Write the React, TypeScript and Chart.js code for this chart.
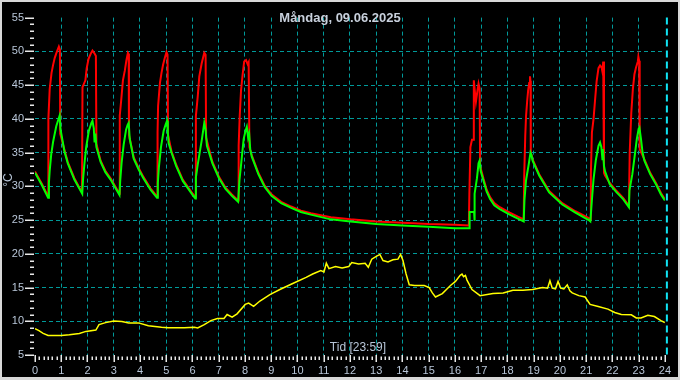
import React, { useEffect, useRef } from "react";
import { Chart, registerables } from "chart.js";

Chart.register(...registerables);

const TITLE = "Måndag, 09.06.2025";
const X_TITLE = "Tid [23:59]";
const Y_TITLE = "°C";

const xTickValues = [0, 1, 2, 3, 4, 5, 6, 7, 8, 9, 10, 11, 12, 13, 14, 15, 16, 17, 18, 19, 20, 21, 22, 23, 24];
const yTickValues = [5, 10, 15, 20, 25, 30, 35, 40, 45, 50, 55];

// Red series (hours, °C)
const redHours = [
  0.0, 0.26, 0.5, 0.51, 0.56, 0.63, 0.69, 0.75, 0.81, 0.91, 0.95, 0.96,
  1.12, 1.25, 1.5, 1.79,
  1.81, 1.92, 1.97, 2.04, 2.13, 2.19, 2.28, 2.32, 2.34,
  2.5, 2.68, 2.88, 3.22,
  3.23, 3.29, 3.35, 3.42, 3.48, 3.54, 3.57, 3.58,
  3.76, 3.95, 4.13, 4.4, 4.65,
  4.67, 4.69, 4.76, 4.82, 4.88, 4.95, 5.01, 5.05, 5.07,
  5.2, 5.38, 5.63, 6.01, 6.11,
  6.13, 6.2, 6.26, 6.35, 6.45, 6.5, 6.52,
  6.76, 7.01, 7.26, 7.5, 7.74,
  7.76, 7.8, 7.85, 7.91, 7.97, 8.04, 8.1, 8.14, 8.17,
  8.26, 8.51, 8.75, 9.01, 9.38, 9.76, 10.13, 10.51, 11.27, 12.02, 13.0, 14.0, 15.0, 16.0, 16.53,
  16.55, 16.59, 16.65, 16.71, 16.72, 16.76, 16.8, 16.86, 16.9, 16.94, 16.96,
  17.09, 17.21, 17.34, 17.5, 17.71, 18.09, 18.4, 18.62,
  18.64, 18.68, 18.71, 18.75, 18.79, 18.83, 18.86, 18.88, 18.89,
  18.96, 19.21, 19.59, 20.09, 20.59, 21.1, 21.16,
  21.18, 21.22, 21.28, 21.34, 21.4, 21.47, 21.53, 21.59, 21.62, 21.65, 21.68,
  21.72, 21.9, 22.16, 22.41, 22.63,
  22.66, 22.72, 22.78, 22.84, 22.9, 22.97, 22.99, 23.02, 23.04,
  23.22, 23.44, 23.66, 23.85, 24.0,
];
const redTemps = [
  32.2, 30.4, 28.5, 40.0, 44.4, 46.8, 48.0, 49.0, 49.7, 50.7, 50.3, 37.8,
  35.4, 33.6, 31.2, 29.1,
  44.7, 45.7, 47.5, 48.9, 49.7, 50.1, 49.6, 49.3, 36.3,
  33.8, 32.3, 31.2, 28.9,
  40.5, 43.0, 45.7, 47.1, 48.6, 49.8, 49.6, 37.6,
  34.3, 32.7, 31.4, 29.7, 28.5,
  38.0, 41.9, 45.3, 46.8, 48.0, 49.1, 49.9, 49.5, 37.6,
  35.2, 33.2, 31.0, 28.9, 28.4,
  40.4, 43.3, 46.3, 48.2, 49.8, 49.5, 37.2,
  33.6, 31.4, 29.8, 28.8, 27.9,
  36.0, 40.4, 44.2, 46.5, 48.5, 48.7, 48.1, 48.4, 35.8,
  34.6, 32.0, 30.1, 28.8, 27.7, 27.0, 26.4, 26.0, 25.4, 25.1, 24.8, 24.6, 24.4, 24.3, 24.2,
  28.8, 35.8, 36.9, 36.9, 45.7, 44.0, 42.5, 44.2, 45.2, 44.5, 33.0,
  31.1, 29.5, 28.4, 27.5, 26.9, 26.1, 25.5, 25.1,
  31.5, 37.5, 40.4, 42.5, 44.2, 45.3, 46.3, 45.6, 35.0,
  34.0, 31.8, 29.3, 27.5, 26.3, 25.3, 25.1,
  31.8, 38.0, 39.9, 42.8, 45.6, 47.5, 47.9, 47.6, 47.0, 48.5, 32.0,
  31.6, 30.5, 29.3, 28.3, 27.1,
  35.0, 40.9, 44.4, 46.6, 47.6, 48.5, 49.2, 48.6, 35.5,
  34.0, 32.0, 30.5, 29.0, 28.1,
];

// Green series (hours, °C)
const greenHours = [
  0.0, 0.26, 0.5, 0.53, 0.56, 0.62, 0.69, 0.81, 0.94, 0.97,
  1.12, 1.25, 1.5, 1.8,
  1.83, 1.88, 1.95, 2.05, 2.15, 2.19, 2.24, 2.27, 2.3, 2.34,
  2.5, 2.68, 2.88, 3.22,
  3.25, 3.3, 3.38, 3.47, 3.53, 3.57, 3.61,
  3.76, 3.95, 4.13, 4.4, 4.65,
  4.68, 4.72, 4.8, 4.9, 4.98, 5.03, 5.06, 5.09,
  5.2, 5.38, 5.63, 6.01, 6.11,
  6.13, 6.2, 6.28, 6.36, 6.45, 6.5, 6.55,
  6.76, 7.01, 7.26, 7.5, 7.74,
  7.79, 7.86, 7.95, 8.02, 8.07, 8.12, 8.16, 8.2,
  8.26, 8.51, 8.75, 9.01, 9.38, 9.76, 10.13, 10.51, 11.27, 12.02, 13.0, 14.0, 15.0, 16.0, 16.54,
  16.56, 16.73, 16.74, 16.76, 16.84, 16.9, 16.94, 16.98,
  17.09, 17.21, 17.34, 17.5, 17.71, 18.09, 18.4, 18.62,
  18.65, 18.71, 18.81, 18.88, 18.92,
  18.96, 19.21, 19.59, 20.09, 20.59, 21.1, 21.16,
  21.22, 21.28, 21.37, 21.47, 21.53, 21.58, 21.62, 21.64, 21.68, 21.72,
  21.9, 22.16, 22.41, 22.63,
  22.65, 22.76, 22.84, 22.93, 23.0, 23.03, 23.09, 23.15,
  23.22, 23.44, 23.66, 23.85, 24.0,
];
const greenTemps = [
  32.0, 30.2, 28.3, 30.5, 32.3, 34.8, 36.6, 38.9, 40.5, 38.5,
  35.2, 33.4, 31.0, 28.9,
  31.0, 33.2, 35.8, 38.2, 39.4, 39.7, 38.6, 36.5, 37.8, 35.8,
  33.6, 32.1, 31.0, 28.7,
  31.0, 33.5, 36.2, 38.4, 39.1, 39.4, 37.0,
  34.1, 32.5, 31.2, 29.5, 28.3,
  30.5, 32.8, 35.8, 38.2, 39.2, 39.7, 38.0, 36.4,
  35.0, 33.0, 30.8, 28.7, 28.2,
  31.3, 33.2, 35.1, 37.0, 39.4, 38.4, 36.0,
  33.4, 31.2, 29.6, 28.6, 27.7,
  30.9, 33.5, 37.0, 38.2, 38.8, 37.2, 37.8, 35.5,
  34.4, 31.8, 29.9, 28.6, 27.5, 26.8, 26.2, 25.8, 25.1, 24.8, 24.4, 24.2, 24.0, 23.8, 23.8,
  26.2, 26.2, 24.9, 28.9, 31.2, 33.4, 33.8, 32.3,
  30.8, 29.2, 28.1, 27.2, 26.6, 25.8, 25.2, 24.8,
  28.0, 30.9, 33.2, 35.0, 34.6,
  33.8, 31.6, 29.1, 27.3, 26.1, 25.0, 24.8,
  28.0, 31.0, 33.9, 36.0, 36.5, 35.8, 34.0, 35.5, 33.0, 32.2,
  30.3, 29.1, 28.1, 26.9,
  29.4, 31.8, 34.2, 37.0, 38.5, 38.7, 37.0, 35.0,
  33.8, 31.8, 30.3, 28.8, 27.9,
];

// Yellow series (hours, °C)
const yellowHours = [
  0.0, 0.15, 0.31, 0.5, 1.0, 1.31, 1.69, 1.94, 2.32, 2.44, 2.69, 3.0, 3.31, 3.57, 3.94,
  4.32, 4.82, 5.07, 5.69, 6.07, 6.2, 6.45, 6.7, 6.95, 7.2, 7.32, 7.51, 7.7,
  8.01, 8.14, 8.33, 8.57, 8.95, 9.33, 9.82, 10.33, 10.58, 10.89, 11.01, 11.1, 11.2,
  11.45, 11.7, 11.95, 12.07, 12.33, 12.58, 12.7, 12.83, 13.02, 13.14, 13.26, 13.45,
  13.64, 13.83, 13.93, 14.02, 14.14, 14.26, 14.46, 14.83, 15.02, 15.14, 15.26, 15.52,
  15.83, 16.02, 16.2, 16.27, 16.33, 16.4, 16.46, 16.65, 16.96, 17.45, 17.84, 18.21,
  18.59, 18.96, 19.34, 19.53, 19.62, 19.71, 19.83, 19.93, 20.03, 20.15, 20.28, 20.38,
  20.47, 20.72, 20.96, 21.15, 21.46, 21.83, 22.09, 22.34, 22.72, 22.91, 23.09, 23.35,
  23.6, 23.85, 24.0,
];
const yellowTemps = [
  8.9, 8.6, 8.2, 7.9, 7.9, 8.0, 8.2, 8.5, 8.7, 9.5, 9.8, 10.05, 9.95, 9.76, 9.76,
  9.33, 9.1, 9.05, 9.05, 9.1, 9.0, 9.5, 10.1, 10.4, 10.4, 11.0, 10.6, 11.1,
  12.5, 12.7, 12.2, 13.0, 13.95, 14.7, 15.6, 16.5, 17.0, 17.5, 17.3, 18.6, 17.8,
  18.1, 17.9, 18.1, 18.7, 18.5, 18.6, 18.0, 19.2, 19.65, 19.9, 19.0, 18.8,
  19.1, 19.2, 19.9, 19.0, 17.0, 15.4, 15.3, 15.3, 15.0, 14.2, 13.6, 14.1,
  15.3, 15.9, 16.8, 17.0, 16.6, 16.8, 16.1, 14.7, 13.8, 14.1, 14.2, 14.6,
  14.6, 14.7, 15.0, 14.9, 16.0, 14.9, 14.8, 15.9, 14.9, 14.8, 15.4, 14.5,
  14.2, 13.8, 13.6, 12.5, 12.2, 11.8, 11.3, 11.0, 10.95, 10.5, 10.5, 10.9,
  10.7, 10.1, 9.8,
];

const FONT = "'Liberation Sans', Arial, sans-serif";
const LABEL_COLOR = "#b8c6d8";
const GRID_COLOR = "#009a9a";

const toPoints = (hs: number[], vs: number[]) => hs.map((h, i) => ({ x: h, y: vs[i] }));

const backgroundPlugin = {
  id: "bg",
  beforeDraw(chart: any) {
    const { ctx, width, height } = chart;
    ctx.save();
    ctx.fillStyle = "#000000";
    ctx.fillRect(0, 0, width, height);
    ctx.restore();
  },
};

const decorPlugin = {
  id: "decor",
  afterDatasetsDraw(chart: any) {
    const { ctx, chartArea, scales } = chart;
    const xs = scales.x;
    const ys = scales.y;
    ctx.save();
    // "now" marker at end of day
    const xm = xs.getPixelForValue(24) + 2;
    ctx.strokeStyle = "#10e4f4";
    ctx.lineWidth = 2;
    ctx.setLineDash([7, 4]);
    ctx.beginPath();
    ctx.moveTo(xm, chartArea.top);
    ctx.lineTo(xm, chartArea.bottom);
    ctx.stroke();
    ctx.setLineDash([]);

    // tick marks
    ctx.strokeStyle = "#e8e8e8";
    ctx.lineWidth = 1.5;
    ctx.beginPath();
    for (let v = 5; v <= 55; v++) {
      const y = Math.round(ys.getPixelForValue(v)) + 0.25;
      const major = v % 5 === 0;
      ctx.moveTo(major ? 25 : 30, y);
      ctx.lineTo(34, y);
    }
    for (let m = 0; m <= 144; m++) {
      const x = Math.round(xs.getPixelForValue(m / 6)) + 0.25;
      const major = m % 6 === 0;
      ctx.moveTo(x, major ? 355 : 356.5);
      ctx.lineTo(x, major ? 362 : 360);
    }
    ctx.stroke();

    // titles
    ctx.fillStyle = "#c8d0dc";
    ctx.font = `bold 13px ${FONT}`;
    ctx.textAlign = "center";
    ctx.textBaseline = "middle";
    ctx.fillText(TITLE, 340, 18);

    ctx.fillStyle = LABEL_COLOR;
    ctx.font = `12px ${FONT}`;
    ctx.fillText(X_TITLE, 358, 348);

    ctx.translate(9, 180);
    ctx.rotate(-Math.PI / 2);
    ctx.fillText(Y_TITLE, 0, 0);
    ctx.restore();

    // outer frame
    ctx.save();
    ctx.fillStyle = "#d8d8d8";
    ctx.fillRect(0, 0, 680, 2);
    ctx.fillRect(0, 0, 2, 380);
    ctx.fillRect(0, 377, 680, 3);
    ctx.fillRect(678, 0, 2, 380);
    ctx.restore();
  },
};

export default function App() {
  const ref = useRef<HTMLCanvasElement>(null);

  useEffect(() => {
    document.body.style.margin = "0";
    const canvas = ref.current;
    if (!canvas) return;
    const chart = new Chart(canvas, {
      type: "line",
      data: {
        datasets: [
          {
            label: "Grön",
            data: toPoints(greenHours, greenTemps),
            borderColor: "#00ff00",
            borderWidth: 2,
            pointRadius: 0,
            tension: 0,
            order: 1,
          },
          {
            label: "Röd",
            data: toPoints(redHours, redTemps),
            borderColor: "#ff0000",
            borderWidth: 2,
            pointRadius: 0,
            tension: 0,
            order: 2,
          },
          {
            label: "Gul",
            data: toPoints(yellowHours, yellowTemps),
            borderColor: "#ffff00",
            borderWidth: 1.5,
            pointRadius: 0,
            tension: 0,
            order: 3,
          },
        ],
      },
      options: {
        animation: false,
        responsive: false,
        maintainAspectRatio: false,
        layout: { padding: { left: 0, right: 6, top: 4, bottom: 0 } },
        plugins: {
          legend: { display: false },
          tooltip: { enabled: false },
          title: { display: false },
        },
        scales: {
          x: {
            type: "linear",
            min: 0,
            max: 24,
            afterFit: (s: any) => {
              s.height = 25;
            },
            afterBuildTicks: (s: any) => {
              s.ticks = xTickValues.map((v) => ({ value: v }));
            },
            ticks: {
              color: LABEL_COLOR,
              font: { family: FONT, size: 11 },
              padding: 9,
              maxRotation: 0,
              autoSkip: false,
            },
            grid: {
              color: (c: any) =>
                c.tick && c.tick.value > 0 && c.tick.value < 24 ? GRID_COLOR : "rgba(0,0,0,0)",
              lineWidth: 1,
              drawTicks: false,
            },
            border: { display: false, dash: [4, 3] },
          },
          y: {
            min: 5,
            max: 55,
            afterFit: (s: any) => {
              s.width = 35;
            },
            afterBuildTicks: (s: any) => {
              s.ticks = yTickValues.map((v) => ({ value: v }));
            },
            ticks: {
              color: LABEL_COLOR,
              font: { family: FONT, size: 11 },
              padding: 11,
              autoSkip: false,
            },
            grid: {
              color: (c: any) =>
                c.tick && c.tick.value > 5 && c.tick.value < 55 ? GRID_COLOR : "rgba(0,0,0,0)",
              lineWidth: 1,
              drawTicks: false,
            },
            border: { display: false, dash: [4, 3] },
          },
        },
      },
      plugins: [backgroundPlugin, decorPlugin],
    });
    return () => chart.destroy();
  }, []);

  return (
    <div style={{ position: "absolute", left: 0, top: 0, width: 680, height: 380 }}>
      <canvas ref={ref} width={680} height={380} style={{ display: "block", width: 680, height: 380 }} />
    </div>
  );
}
